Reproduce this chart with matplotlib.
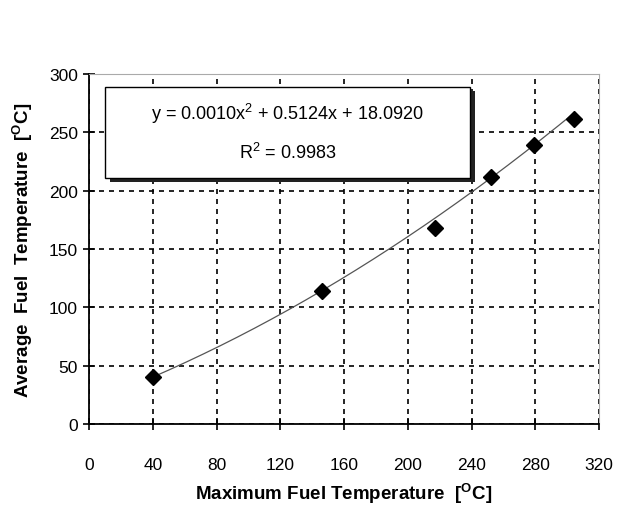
import matplotlib
matplotlib.use('Agg')
import matplotlib.pyplot as plt
import numpy as np
from matplotlib.patches import Rectangle

plt.rcParams['font.family'] = ['Liberation Sans', 'DejaVu Sans']
plt.rcParams['mathtext.fontset'] = 'custom'
plt.rcParams['mathtext.rm'] = 'Liberation Sans'

# data
max_temp = [40, 146, 217, 252, 279, 304]
avg_temp = [40, 114, 168, 212, 239, 261]
coeffs = [0.0010, 0.5124, 18.0920]   # trendline, from the label
xticks = [0, 40, 80, 120, 160, 200, 240, 280, 320]
yticks = [0, 50, 100, 150, 200, 250, 300]

fig = plt.figure(figsize=(6.28, 5.10), dpi=100)
ax = fig.add_axes([0.1417, 0.1667, 0.8123, 0.6863])

xs = np.linspace(min(max_temp), max(max_temp), 200)
ax.plot(xs, np.polyval(coeffs, xs), '-', color='#555555', linewidth=0.9, zorder=3)
ax.plot(max_temp, avg_temp, 'D', color='k', markersize=8, zorder=4)

ax.set_xlim(0, 320)
ax.set_ylim(0, 300)
ax.set_xticks(xticks)
ax.set_yticks(yticks)
ax.tick_params(direction='inout', length=8, width=1.2, labelsize=12.5, pad=20)
ax.tick_params(axis='y', pad=4)
ax.grid(True, color='k', linestyle=(0, (3, 3)), linewidth=1.2)

for s in ['top', 'right']:
    ax.spines[s].set_color('#aaaaaa')
for s in ['left', 'bottom']:
    ax.spines[s].set_linewidth(1.3)

ax.set_xlabel('Maximum Fuel Temperature  [$^{\\mathregular{O}}$C]', fontsize=13.5, fontweight='bold', labelpad=6)
ax.set_ylabel('Average  Fuel  Temperature  [$^{\\mathregular{O}}$C]', fontsize=13.5, fontweight='bold', labelpad=10)

# equation box with shadow
ax.add_patch(Rectangle((13, 207.5), 229, 78, facecolor='#222222', edgecolor='none', zorder=5))
ax.add_patch(Rectangle((10, 211), 229, 78, facecolor='white', edgecolor='k', linewidth=1.0, zorder=6))
ax.text(124.5, 267, 'y = 0.0010x$^{\\mathregular{2}}$ + 0.5124x + 18.0920', ha='center', va='center',
        fontsize=13, zorder=7)
ax.text(124.5, 233, 'R$^{\\mathregular{2}}$ = 0.9983', ha='center', va='center', fontsize=13, zorder=7)

fig.savefig('out.png', dpi=100)
